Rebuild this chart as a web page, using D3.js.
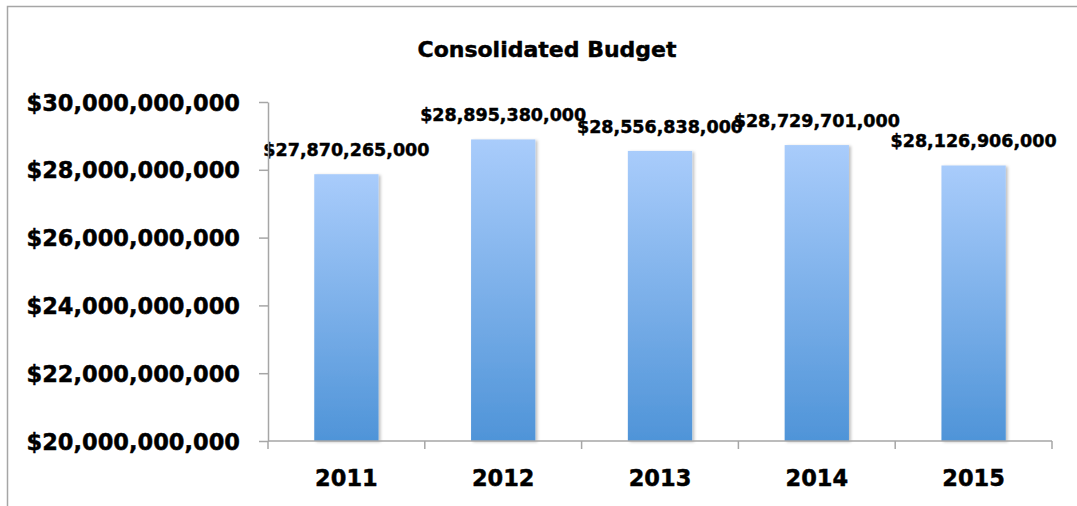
<!DOCTYPE html>
<html>
<head>
<meta charset="utf-8">
<script src="https://cdn.jsdelivr.net/npm/d3@7"></script>
<style>
  html, body { margin: 0; padding: 0; background: #fff; }
  svg { display: block; }
  text { font-family: "DejaVu Sans", Verdana, sans-serif; font-weight: bold; fill: #000; stroke: #000; stroke-width: 0.45px; }
</style>
</head>
<body>
<svg id="chart" width="1077" height="506"></svg>
<script>
// Consolidated budget by fiscal year
const years = ["2011", "2012", "2013", "2014", "2015"];
const budget = [27870265000, 28895380000, 28556838000, 28729701000, 28126906000];
const yTicks = [20000000000, 22000000000, 24000000000, 26000000000, 28000000000, 30000000000];
const chartTitle = "Consolidated Budget";

const svg = d3.select("#chart");
const W = 1077, H = 506;
const plot = { left: 268, right: 1052, top: 102, bottom: 441 };

const money = v => "$" + d3.format(",")(v);

// outer chart frame (runs off the right and bottom edges)
svg.append("rect")
  .attr("x", 7.5).attr("y", 6.5)
  .attr("width", W + 10).attr("height", H + 10)
  .attr("fill", "none").attr("stroke", "#a6a6a6").attr("stroke-width", 1.5);

// bar gradient and soft shadow
const defs = svg.append("defs");
const grad = defs.append("linearGradient")
  .attr("id", "barFill").attr("x1", 0).attr("y1", 0).attr("x2", 0).attr("y2", 1);
grad.append("stop").attr("offset", "0%").attr("stop-color", "#a9ccfb");
grad.append("stop").attr("offset", "100%").attr("stop-color", "#4f94d8");
const shadow = defs.append("filter").attr("id", "barShadow")
  .attr("x", "-10%").attr("y", "-10%").attr("width", "130%").attr("height", "130%");
shadow.append("feDropShadow")
  .attr("dx", 2).attr("dy", 1).attr("stdDeviation", 1.5)
  .attr("flood-color", "#000").attr("flood-opacity", 0.25);

const x = d3.scaleBand().domain(years).range([plot.left, plot.right]).padding(0);
const y = d3.scaleLinear().domain([20000000000, 30000000000]).range([plot.bottom, plot.top]);

const barW = x.bandwidth() * 0.41;

// bars
svg.append("g").selectAll("rect")
  .data(years)
  .join("rect")
  .attr("x", (d, i) => x(d) + (x.bandwidth() - barW) / 2)
  .attr("y", (d, i) => y(budget[i]))
  .attr("width", barW)
  .attr("height", (d, i) => y(20000000000) - y(budget[i]))
  .attr("fill", "url(#barFill)")
  .attr("filter", "url(#barShadow)");

// value labels above bars
svg.append("g").selectAll("text")
  .data(years)
  .join("text")
  .attr("x", d => x(d) + x.bandwidth() / 2)
  .attr("y", (d, i) => y(budget[i]) - 18)
  .attr("text-anchor", "middle")
  .style("font-size", "17.5px")
  .text((d, i) => money(budget[i]));

// y axis
const yAxis = svg.append("g")
  .attr("transform", `translate(${plot.left},0)`)
  .call(d3.axisLeft(y).tickValues(yTicks).tickFormat(money).tickSize(9).tickPadding(19).tickSizeOuter(0));
yAxis.select(".domain").attr("stroke", "#a6a6a6").attr("stroke-width", 1.5);
yAxis.selectAll(".tick line").attr("stroke", "#a6a6a6").attr("stroke-width", 1.5);
yAxis.selectAll(".tick text")
  .attr("dy", "0.36em")
  .style("font-size", "22.5px").style("font-family", "'DejaVu Sans', sans-serif").style("font-weight", "bold")
  .attr("fill", "#000");

// x axis with ticks at category boundaries
const xAxis = svg.append("g").attr("transform", `translate(0,${plot.bottom})`);
xAxis.append("line")
  .attr("x1", plot.left).attr("x2", plot.right)
  .attr("stroke", "#a6a6a6").attr("stroke-width", 1.5);
const bounds = years.map(d => x(d)).concat([x(years[years.length - 1]) + x.bandwidth()]);
xAxis.selectAll("line.sep")
  .data(bounds)
  .join("line")
  .attr("class", "sep")
  .attr("x1", d => d).attr("x2", d => d)
  .attr("y1", 0).attr("y2", 8)
  .attr("stroke", "#a6a6a6").attr("stroke-width", 1.5);
xAxis.selectAll("text")
  .data(years)
  .join("text")
  .attr("x", d => x(d) + x.bandwidth() / 2)
  .attr("y", 45)
  .attr("text-anchor", "middle")
  .style("font-size", "22.5px")
  .text(d => d);

// title
svg.append("text")
  .attr("x", 547).attr("y", 57)
  .attr("text-anchor", "middle")
  .style("font-size", "22px")
  .text(chartTitle);
</script>
</body>
</html>
